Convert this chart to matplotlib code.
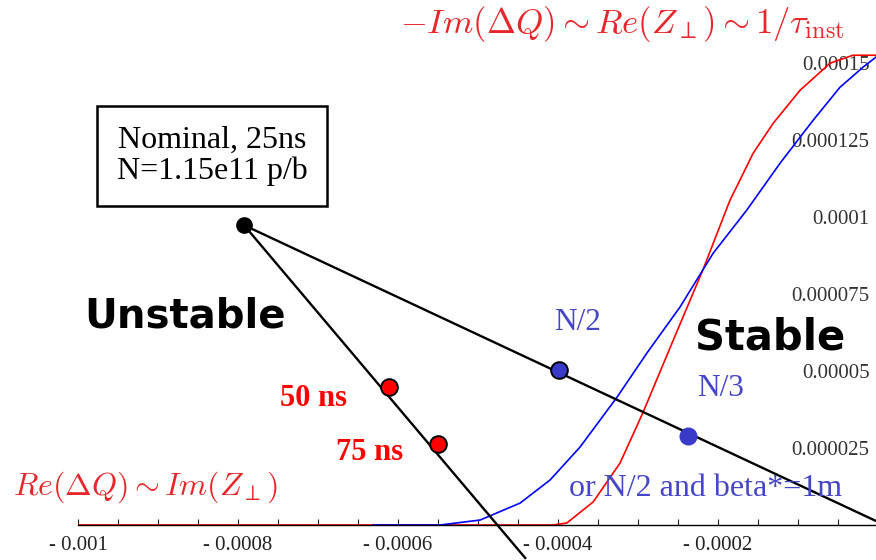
import numpy as np
import matplotlib.pyplot as plt
from matplotlib.ticker import FixedLocator, MultipleLocator, FuncFormatter

# red curve: -Im(dQ) vs Re(dQ), 25 ns spacing
red_x = [-0.001, -0.000406, -0.000389, -0.000356, -0.0003225, -0.000294, -0.000256,
         -0.000219, -0.000185, -0.000156, -0.000131, -0.0000975, -0.00006,
         -0.00003125, -0.0000025]
red_y = [0.0, 0.0, 0.00000065, 0.0000075, 0.0000201, 0.0000364, 0.00006,
         0.0000828, 0.0001055, 0.0001208, 0.0001305, 0.0001412, 0.00015,
         0.0001526, 0.0001526]

# blue curve
blue_x = [-0.000631, -0.0005475, -0.0004975, -0.0004475, -0.00041, -0.0003725,
          -0.000326, -0.000289, -0.0002475, -0.000206, -0.000164, -0.0001225,
          -0.000081, -0.0000475, -0.00001875, -0.0000025]
blue_y = [0.0, 0.0, 0.0000016, 0.0000071, 0.0000146, 0.0000253, 0.0000416,
          0.0000558, 0.0000708, 0.0000883, 0.0001023, 0.0001175, 0.0001315,
          0.0001422, 0.0001487, 0.000152]

# nominal working point and the two scaling lines
nominal = (-0.0007925, 0.0000974)
spacing_end = (-0.000441, -0.0000107)
intensity_end = (-0.0000025, 0.0000013)
red_pts_x = [-0.000611, -0.00055]
red_pts_y = [0.0000448, 0.0000263]
red_pts_lab = ["50 ns", "75 ns"]
blue_pts_x = [-0.000399, -0.0002375]
blue_pts_y = [0.0000503, 0.0000289]
blue_pts_lab = ["N/2", "N/3"]

xticks_major = [-0.001, -0.0008, -0.0006, -0.0004, -0.0002]
yticks = [0.000025, 0.00005, 0.000075, 0.0001, 0.000125, 0.00015]
ytick_labels = ["0.000025", "0.00005", "0.000075", "0.0001", "0.000125", "0.00015"]

W, H = 876, 560
plt.rcParams['font.family'] = ['Liberation Serif', 'DejaVu Serif']
plt.rcParams['mathtext.fontset'] = 'cm'

fig = plt.figure(figsize=(W / 100, H / 100), dpi=100)
ax = fig.add_axes([78 / W, 35 / H, (876 - 78) / W, (525 - 54) / H])
ax.set_xlim(-0.001, -0.0000025)
ax.set_ylim(0, 0.000153)


def px(x, y):
    # pixel position -> figure fraction
    return x / W, 1 - y / H


ax.plot(red_x, red_y, color='red', lw=1.2, zorder=2)
ax.plot(blue_x, blue_y, color='blue', lw=1.2, zorder=2)

ax.plot([nominal[0], spacing_end[0]], [nominal[1], spacing_end[1]],
        color='black', lw=1.7, clip_on=False, zorder=3)
ax.plot([nominal[0], intensity_end[0]], [nominal[1], intensity_end[1]],
        color='black', lw=1.7, clip_on=False, zorder=3)

ax.plot(*nominal, 'o', ms=11, color='black', zorder=4)
ax.plot(red_pts_x, red_pts_y, 'o', ms=12, mfc='red', mec='black', mew=1.4, zorder=4)
ax.plot(blue_pts_x[0], blue_pts_y[0], 'o', ms=12, mfc='#3a3ac8', mec='black', mew=1.4, zorder=4)
ax.plot(blue_pts_x[1], blue_pts_y[1], 'o', ms=12, mfc='#3a3ac8', mec='#3a3ac8', zorder=4)

# axes styling
for s in ['top', 'left', 'right']:
    ax.spines[s].set_visible(False)
ax.spines['bottom'].set_linewidth(1.0)
ax.xaxis.set_major_locator(FixedLocator(xticks_major))
ax.xaxis.set_minor_locator(MultipleLocator(0.00005))
ax.xaxis.set_major_formatter(FuncFormatter(lambda v, p: "- %g" % abs(v)))
ax.tick_params(axis='x', which='both', direction='in', length=4, width=0.8,
               labelsize=15, pad=8, colors='#222222')
ax.yaxis.set_major_locator(FixedLocator(yticks))
ax.set_yticklabels(ytick_labels)
ax.tick_params(axis='y', left=False, labelleft=False, right=False, labelright=True,
               labelsize=15, pad=-8, labelcolor='#333333')
for lab in ax.get_yticklabels():
    lab.set_horizontalalignment('right')

# annotations
fig.text(*px(212, 156), "Nominal, 25ns\nN=1.15e11 p/b", ha='center', va='center',
         fontsize=23, linespacing=1.1,
         bbox=dict(boxstyle='square,pad=0.62', fc='white', ec='black', lw=1.8))

fig.text(*px(845, 24), r"$-Im(\Delta Q) \sim Re(Z_\perp) \sim 1/\tau_{\rm inst}$",
         ha='right', va='center', fontsize=25, color='#e8262b')
fig.text(*px(13, 487), r"$Re(\Delta Q) \sim Im(Z_\perp)$",
         ha='left', va='center', fontsize=23, color='#e8262b')

fig.text(*px(185, 317), "Unstable", ha='center', va='center', fontsize=29,
         fontweight='bold', family='DejaVu Sans')
fig.text(*px(770, 337), "Stable", ha='center', va='center', fontsize=30,
         fontweight='bold', family='DejaVu Sans')

fig.text(*px(313, 398), red_pts_lab[0], ha='center', va='center', fontsize=22,
         fontweight='bold', color='red')
fig.text(*px(370, 453), red_pts_lab[1], ha='center', va='center', fontsize=22,
         fontweight='bold', color='red')

fig.text(*px(578, 322), blue_pts_lab[0], ha='center', va='center', fontsize=22.5,
         color='#4646c8')
fig.text(*px(721, 389), blue_pts_lab[1], ha='center', va='center', fontsize=22.5,
         color='#4646c8')
fig.text(*px(706, 488), "or N/2 and beta*=1m", ha='center', va='center', fontsize=23,
         color='#4646c8')

fig.savefig("out.png", dpi=100)
